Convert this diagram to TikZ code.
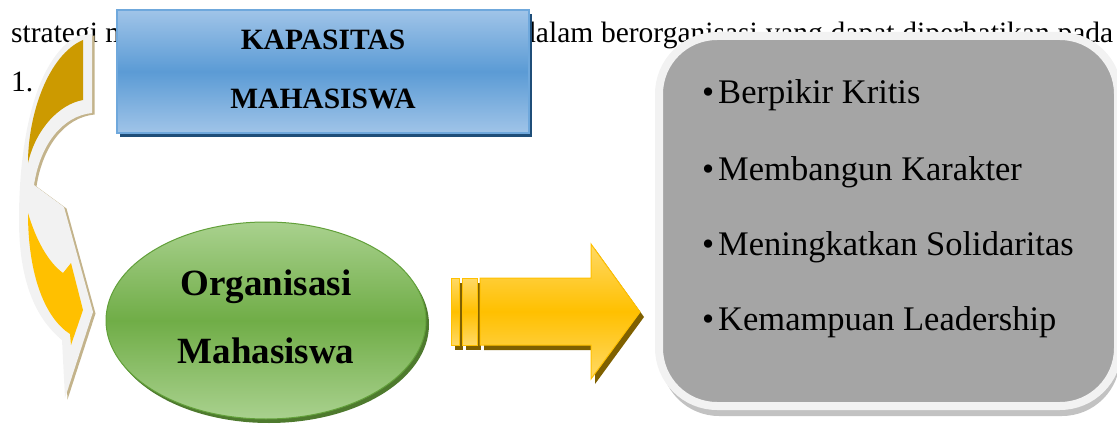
\documentclass[tikz,border=0pt]{standalone}
\usepackage{fontspec}
\setmainfont{Liberation Serif}
\usetikzlibrary{shapes.geometric,shadows}
\definecolor{goldD}{HTML}{CC9A00}
\definecolor{yel}{HTML}{FFC000}
\definecolor{yelL}{HTML}{FFD966}
\definecolor{glow}{HTML}{F2F2F2}
\definecolor{tanS}{HTML}{C3B38B}
\definecolor{blueM}{HTML}{5B9BD5}
\definecolor{blueL}{HTML}{A0C4E8}
\definecolor{blueB}{HTML}{6FA8DC}
\definecolor{blueS}{HTML}{1F4E79}
\definecolor{greenM}{HTML}{70AD47}
\definecolor{greenL}{HTML}{A9D18E}
\definecolor{greenB}{HTML}{62A03A}
\definecolor{greenS}{HTML}{4E7A2E}
\definecolor{grayF}{HTML}{A5A5A5}
\definecolor{grayS}{HTML}{C2C2C2}
\definecolor{arrS}{HTML}{7F6000}
\tikzset{
  bodytext/.style={anchor=base west, inner sep=0pt, font=\fontsize{29.5}{35}\selectfont},
  bluebox/.style={rectangle, minimum width=412pt, minimum height=123pt, inner sep=0pt,
    draw=blueB, line width=1.5pt, top color=blueL, bottom color=blueL, middle color=blueM,
    drop shadow={shadow xshift=3pt, shadow yshift=-4pt, fill=blueS, opacity=1}},
  boxtext/.style={anchor=base, inner sep=0pt, font=\fontsize{29.5}{34}\selectfont\bfseries},
  orgell/.style={ellipse, minimum width=320pt, minimum height=197pt, inner sep=0pt,
    draw=greenB, line width=1pt, top color=greenL, bottom color=greenL, middle color=greenM,
    drop shadow={shadow xshift=3pt, shadow yshift=-4pt, fill=greenS, opacity=1}},
  orgtext/.style={anchor=base, inner sep=0pt, font=\fontsize{37}{44}\selectfont\bfseries},
  graybox/.style={rectangle, rounded corners=58pt, minimum width=459pt, minimum height=370pt,
    inner sep=0pt, draw=glow, line width=8pt, fill=grayF,
    drop shadow={shadow xshift=2pt, shadow yshift=-10pt, fill=grayS, opacity=1}},
  bullettext/.style={anchor=base west, inner sep=0pt, font=\fontsize{34.5}{40}\selectfont},
  yarrow/.style={draw=yel, line width=1pt, top color=yelL, bottom color=yelL, middle color=yel},
  yshadow/.style={fill=arrS, shift={(4,5)}},
}
\begin{document}
\begin{tikzpicture}[x=1pt,y=-1pt]
\useasboundingbox (0,0) rectangle (1117,428);
% background paragraph text
\node[bodytext] (t1) at (11,43) {strategi m};
\node[bodytext] (t2) at (521,43) {\makebox[592pt][s]{dalam berorganisasi yang dapat diperhatikan pada}};
\node[bodytext] (t3) at (11,92) {1.};

% left curved arrow: shadow, white body, coloured bands
\path[fill=tanS, shift={(2.5,1.5)}]
  (77,36) -- (92,34) -- (92,113)
  .. controls (62,116) and (40,145) .. (34,185)
  -- (64,207) -- (93,312) -- (65,398) -- (62,340)
  .. controls (35,318) and (19,280) .. (19,220)
  .. controls (19,140) and (35,60) .. (77,36) -- cycle;
\path[fill=glow]
  (77,36) -- (92,34) -- (92,113)
  .. controls (62,116) and (40,145) .. (34,185)
  -- (64,207) -- (93,312) -- (65,398) -- (62,340)
  .. controls (35,318) and (19,280) .. (19,220)
  .. controls (19,140) and (35,60) .. (77,36) -- cycle;
\path[fill=goldD]
  (83,40) -- (83,100)
  .. controls (60,104) and (36,128) .. (28,163)
  .. controls (28,115) and (48,55) .. (83,40) -- cycle;
\path[fill=yel]
  (28,213) .. controls (36,240) and (48,262) .. (63,273)
  -- (71,263) -- (83,310) -- (71,345) -- (70,334)
  .. controls (45,318) and (28,275) .. (28,213) -- cycle;

% top box
\node[bluebox] (kap) at (323,71.5) {};
\node[boxtext] (kap1) at (323,50) {KAPASITAS};
\node[boxtext] (kap2) at (323,108) {MAHASISWA};

% ellipse
\node[orgell] (org) at (266,320.5) {};
\node[orgtext] (org1) at (266,295) {Organisasi};
\node[orgtext] (org2) at (266,363) {Mahasiswa};

% block arrow
\path[yshadow] (451,278) rectangle (459,345);
\path[yshadow] (462,278) rectangle (477,345);
\path[yshadow] (480,278) -- (591,278) -- (591,244) -- (640,312) -- (591,379) -- (591,345) -- (480,345) -- cycle;
\path[yarrow] (451,278) rectangle (459,345);
\path[yarrow] (462,278) rectangle (477,345);
\path[yarrow] (480,278) -- (591,278) -- (591,244) -- (640,312) -- (591,379) -- (591,345) -- (480,345) -- cycle;

% grey list box
\node[graybox] (list) at (888.5,221) {};
\node[bullettext] (b1) at (702,103) {•\hspace{4pt}Berpikir Kritis};
\node[bullettext] (b2) at (702,180) {•\hspace{4pt}Membangun Karakter};
\node[bullettext] (b3) at (702,255) {•\hspace{4pt}Meningkatkan Solidaritas};
\node[bullettext] (b4) at (702,330) {•\hspace{4pt}Kemampuan Leadership};
\end{tikzpicture}
\end{document}
